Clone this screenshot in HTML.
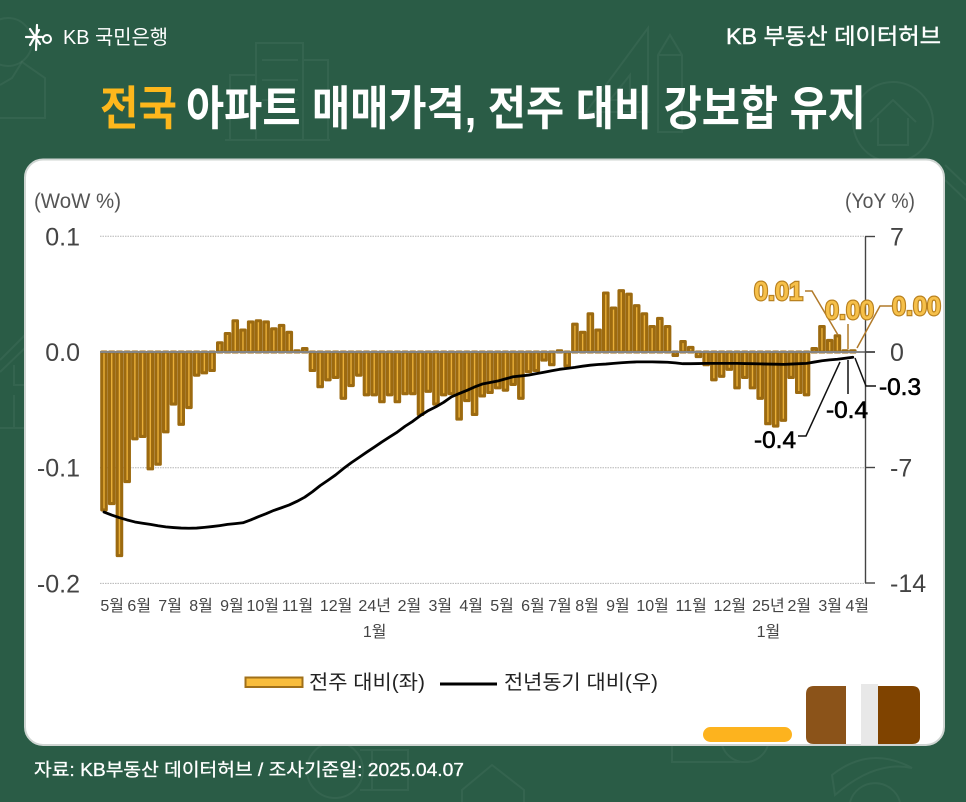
<!DOCTYPE html>
<html lang="ko">
<head>
<meta charset="utf-8">
<title>전국 아파트 매매가격</title>
<style>
html,body{margin:0;padding:0;background:#2a5c46;}
svg{display:block;}
text{font-family:"Liberation Sans","Noto Sans CJK KR",sans-serif;}
</style>
</head>
<body>
<svg id="chart" xmlns="http://www.w3.org/2000/svg" width="966" height="802" viewBox="0 0 966 802">
  <rect width="966" height="802" fill="#2a5c46"/>
  <g fill="none" stroke="#ffffff" stroke-opacity="0.05" stroke-width="2">
    <circle cx="8" cy="42" r="24"/>
    <path d="M0 85 L12 78 L22 62 L45 78 V118 H0"/>
    <path d="M256 140 V43 H303 V140 M230 140 V75 H256 M303 60 H328 V140 M225 140 H330 M262 60 H298 M262 80 H298 M262 100 H298"/>
    <path d="M648 28 V112 H586 Z M630 75 V100 H610 Z"/>
    <path d="M658 132 V55 L670 35 L682 55 V132 Z M658 55 H682"/>
    <circle cx="893" cy="122" r="40"/>
    <path d="M870 122 L893 100 L916 122 M878 118 V145 H908 V118"/>
    <circle cx="335" cy="770" r="28"/>
    <path d="M360 750 H408 V790 H360 M372 750 V790"/>
    <path d="M462 802 V790 L492 765 L524 790 V802"/>
    <path d="M672 745 V762 H740 M722 745 A24 24 0 0 0 768 745"/>
    <path d="M832 775 Q870 745 912 768 Q875 760 835 795 Z M850 802 A26 26 0 0 1 900 802"/>
    <path d="M0 360 L25 335 M0 372 L25 348 M14 365 V385 H25 M14 395 V428 H25 M0 428 H25"/>
    <path d="M945 165 L966 185 M945 180 L966 200"/>
  </g>

  <g>
    <path d="M26 37 H42 M30 29 L40 44 M30 45 L39 30 M37 25 L36 50" stroke="#fff" stroke-width="2.2" fill="none" stroke-linecap="round"/>
    <circle cx="47" cy="39" r="4" fill="none" stroke="#fff" stroke-width="2"/>
    <text x="63" y="44" font-size="20" fill="#fff" textLength="105" lengthAdjust="spacingAndGlyphs">KB 국민은행</text>
  </g>
  <text x="726" y="44" font-size="22" fill="#fff" stroke="#fff" stroke-width="0.4" textLength="215" lengthAdjust="spacingAndGlyphs">KB 부동산 데이터허브</text>
  <text x="100" y="125" font-size="47" font-weight="700" fill="#fdb71c" textLength="77" lengthAdjust="spacingAndGlyphs">전국</text>
  <text x="186" y="125" font-size="47" font-weight="700" fill="#fff" textLength="680" lengthAdjust="spacingAndGlyphs">아파트 매매가격, 전주 대비 강보합 유지</text>

  <rect x="25" y="159.5" width="919" height="585.5" rx="18" fill="#fff" stroke="#cfd5d2" stroke-width="2"/>

  <text x="34" y="208" font-size="21" fill="#555" textLength="87" lengthAdjust="spacingAndGlyphs">(WoW %)</text>
  <text x="845" y="208" font-size="21" fill="#555" textLength="70" lengthAdjust="spacingAndGlyphs">(YoY %)</text>

  <g id="grid"></g>
  <g id="bars"></g>
  <line x1="100" x2="875" y1="352" y2="352" stroke="#858585" stroke-width="2"/>
  <g id="rightAxis"></g>
  <g id="leftTicks"></g>
  <path id="yoyLine" fill="none" stroke="#000" stroke-width="2.8" stroke-linejoin="round" stroke-linecap="round"/>
  <g id="xLabels"></g>

  <g font-size="26" font-weight="700">
    <path d="M805 291 H812 L838 335" fill="none" stroke="#b17a2a" stroke-width="1.5"/>
    <path d="M848 324 V349" fill="none" stroke="#b17a2a" stroke-width="1.5"/>
    <path d="M892 306 H880 L857 348" fill="none" stroke="#b17a2a" stroke-width="1.5"/>
    <text x="754" y="300" fill="#f6c04a" stroke="#b9811f" stroke-width="2.4" paint-order="stroke" textLength="49" lengthAdjust="spacingAndGlyphs">0.01</text>
    <text x="825" y="319" fill="#f6c04a" stroke="#b9811f" stroke-width="2.4" paint-order="stroke" textLength="49" lengthAdjust="spacingAndGlyphs">0.00</text>
    <text x="892" y="315" fill="#f6c04a" stroke="#b9811f" stroke-width="2.4" paint-order="stroke" textLength="49" lengthAdjust="spacingAndGlyphs">0.00</text>
  </g>
  <g font-size="24" fill="#000">
    <path d="M798 436 H806 L840 362" fill="none" stroke="#111" stroke-width="1.5"/>
    <path d="M848 394 V360" fill="none" stroke="#111" stroke-width="1.5"/>
    <path d="M855 358 L866 386 H876" fill="none" stroke="#111" stroke-width="1.5"/>
    <text x="754" y="448" stroke="#000" stroke-width="0.6" textLength="42" lengthAdjust="spacingAndGlyphs">-0.4</text>
    <text x="826" y="418" stroke="#000" stroke-width="0.6" textLength="42" lengthAdjust="spacingAndGlyphs">-0.4</text>
    <text x="879" y="395" stroke="#000" stroke-width="0.6" textLength="42" lengthAdjust="spacingAndGlyphs">-0.3</text>
  </g>

  <g>
    <rect x="245.5" y="677.5" width="57" height="9.5" fill="#f9bd3c" stroke="#a0701a" stroke-width="2"/>
    <text x="309" y="689" font-size="20" fill="#222" textLength="116" lengthAdjust="spacingAndGlyphs">전주 대비(좌)</text>
    <line x1="440" x2="497" y1="684" y2="684" stroke="#000" stroke-width="3"/>
    <text x="504" y="689" font-size="20" fill="#222" textLength="154" lengthAdjust="spacingAndGlyphs">전년동기 대비(우)</text>
  </g>

  <g>
    <rect x="703" y="727" width="89" height="15" rx="7.5" fill="#fdb31e"/>
    <path d="M846 686 H814 Q806 686 806 694 V737 Q806 744 814 744 H846 Z" fill="#8b5319"/>
    <rect x="861" y="684" width="17" height="61" fill="#e8e8e8"/>
    <path d="M878 686 H912 Q920 686 920 694 V737 Q920 744 912 744 H878 Z" fill="#7f4300"/>
  </g>

  <text x="34" y="776" font-size="18" fill="#fff" stroke="#fff" stroke-width="0.3" textLength="430" lengthAdjust="spacingAndGlyphs">자료: KB부동산 데이터허브 / 조사기준일: 2025.04.07</text>
</svg>

<script>
var weeklyChange = [-0.1365,-0.131,-0.176,-0.112,-0.075,-0.073,-0.101,-0.097,-0.069,-0.045,-0.0625,-0.048,-0.020,-0.018,-0.016,0.008,0.016,0.027,0.019,0.026,0.027,0.026,0.020,0.023,0.017,0.001,0.003,-0.016,-0.030,-0.024,-0.022,-0.040,-0.029,-0.020,-0.037,-0.037,-0.043,-0.037,-0.043,-0.036,-0.036,-0.054,-0.034,-0.045,-0.037,-0.036,-0.058,-0.042,-0.054,-0.038,-0.035,-0.031,-0.033,-0.028,-0.040,-0.017,-0.016,-0.007,-0.011,0.001,-0.012,0.024,0.017,0.033,0.019,0.051,0.038,0.053,0.050,0.040,0.033,0.022,0.029,0.022,-0.003,0.009,0.004,-0.004,-0.011,-0.024,-0.021,-0.015,-0.031,-0.022,-0.031,-0.040,-0.062,-0.064,-0.059,-0.022,-0.035,-0.037,0.003,0.022,0.010,0.014,0.001,0.001];
var yearlyChange = [-9.7,-9.88,-10.04,-10.18,-10.3,-10.38,-10.45,-10.53,-10.6,-10.64,-10.67,-10.68,-10.67,-10.63,-10.58,-10.52,-10.45,-10.4,-10.35,-10.18,-9.98,-9.8,-9.6,-9.44,-9.27,-9.05,-8.8,-8.47,-8.1,-7.78,-7.45,-7.07,-6.72,-6.4,-6.08,-5.77,-5.45,-5.15,-4.85,-4.5,-4.2,-3.85,-3.55,-3.32,-3.05,-2.72,-2.52,-2.33,-2.12,-1.94,-1.85,-1.76,-1.63,-1.5,-1.45,-1.4,-1.31,-1.23,-1.14,-1.05,-0.99,-0.93,-0.86,-0.8,-0.76,-0.73,-0.69,-0.65,-0.62,-0.6,-0.6,-0.6,-0.61,-0.62,-0.66,-0.71,-0.71,-0.7,-0.69,-0.69,-0.69,-0.69,-0.69,-0.7,-0.71,-0.72,-0.73,-0.74,-0.75,-0.73,-0.71,-0.69,-0.61,-0.53,-0.48,-0.44,-0.38,-0.32];
var monthLabels = ["5월","6월","7월","8월","9월","10월","11월","12월","24년|1월","2월","3월","4월","5월","6월","7월","8월","9월","10월","11월","12월","25년|1월","2월","3월","4월"];
var monthWeeks = [3,4,4,4,4,4,5,5,5,4,4,4,4,4,3,4,4,5,5,5,5,3,5,1];
var leftTicks = [0.1,0,-0.1,-0.2];
var leftTickLabels = ["0.1","0.0","-0.1","-0.2"];
var rightTicks = [7,0,-7,-14];

var NS = "http://www.w3.org/2000/svg";
function xScale(i){ return 104 + 7.72 * i; }
function yLeft(v){ return 352 - v * 1157; }
function yRight(v){ return 352 - v * 16.5; }
function mk(tag, parentId){
  var el = document.createElementNS(NS, tag);
  document.getElementById(parentId).appendChild(el);
  return el;
}

leftTicks.forEach(function(t, i){
  var y = yLeft(t);
  if (t !== 0) {
    var g = mk("line", "grid");
    
    
    g.setAttribute("x1", 100); g.setAttribute("x2", 865);
    g.setAttribute("y1", y); g.setAttribute("y2", y);
    g.setAttribute("stroke", "#b5b5b5");
    g.setAttribute("stroke-width", 1);
    g.setAttribute("stroke-dasharray", "1.5 1");
  }
  var tx = mk("text", "leftTicks");
  
  
  tx.setAttribute("x", 80); tx.setAttribute("y", y + 9);
  tx.setAttribute("text-anchor", "end");
  tx.setAttribute("font-size", 25);
  tx.setAttribute("fill", "#444");
  tx.textContent = leftTickLabels[i];
});

weeklyChange.forEach(function(v, i){
  var r = mk("rect", "bars");
  
  
  var y0 = yLeft(0), y1 = yLeft(v);
  r.setAttribute("x", xScale(i) - 2.25);
  r.setAttribute("width", 4.5);
  r.setAttribute("y", Math.min(y0, y1));
  r.setAttribute("height", Math.abs(y1 - y0));
  r.setAttribute("fill", "#e9af39");
  r.setAttribute("stroke", "#9c6a10");
  r.setAttribute("stroke-width", 3.1);
  r.setAttribute("stroke-linejoin", "round");
});

var axisLine = mk("line", "rightAxis");


axisLine.setAttribute("x1", 865.5); axisLine.setAttribute("x2", 865.5);
axisLine.setAttribute("y1", yRight(rightTicks[0])); axisLine.setAttribute("y2", yRight(rightTicks[3]));
axisLine.setAttribute("stroke", "#444"); axisLine.setAttribute("stroke-width", 1.4);
rightTicks.forEach(function(t){
  var y = yRight(t);
  var k = mk("line", "rightAxis");
  
  
  k.setAttribute("x1", 865); k.setAttribute("x2", 875);
  k.setAttribute("y1", y); k.setAttribute("y2", y);
  k.setAttribute("stroke", "#444"); k.setAttribute("stroke-width", 1.4);
  var tx = mk("text", "rightAxis");
  
  
  tx.setAttribute("x", 890); tx.setAttribute("y", y + 9);
  tx.setAttribute("font-size", 25);
  tx.setAttribute("fill", "#444");
  tx.textContent = String(t);
});

document.getElementById("yoyLine").setAttribute("d", yearlyChange.map(function(v, i){
  return (i ? "L" : "M") + xScale(i).toFixed(2) + " " + yRight(v).toFixed(2);
}).join(" "));

var startWeek = 0;
monthLabels.forEach(function(label, i){
  var center = xScale(startWeek + (monthWeeks[i] - 1) / 2) + 0.5;
  if (i === monthLabels.length - 1) center += 4;
  label.split("|").forEach(function(part, line){
    var tx = mk("text", "xLabels");
    
    
    tx.setAttribute("x", center);
    tx.setAttribute("y", 611 + line * 26);
    tx.setAttribute("text-anchor", "middle");
    tx.setAttribute("font-size", 16);
    tx.setAttribute("fill", "#444");
    tx.textContent = part;
  });
  startWeek += monthWeeks[i];
});
</script>
</body>
</html>
